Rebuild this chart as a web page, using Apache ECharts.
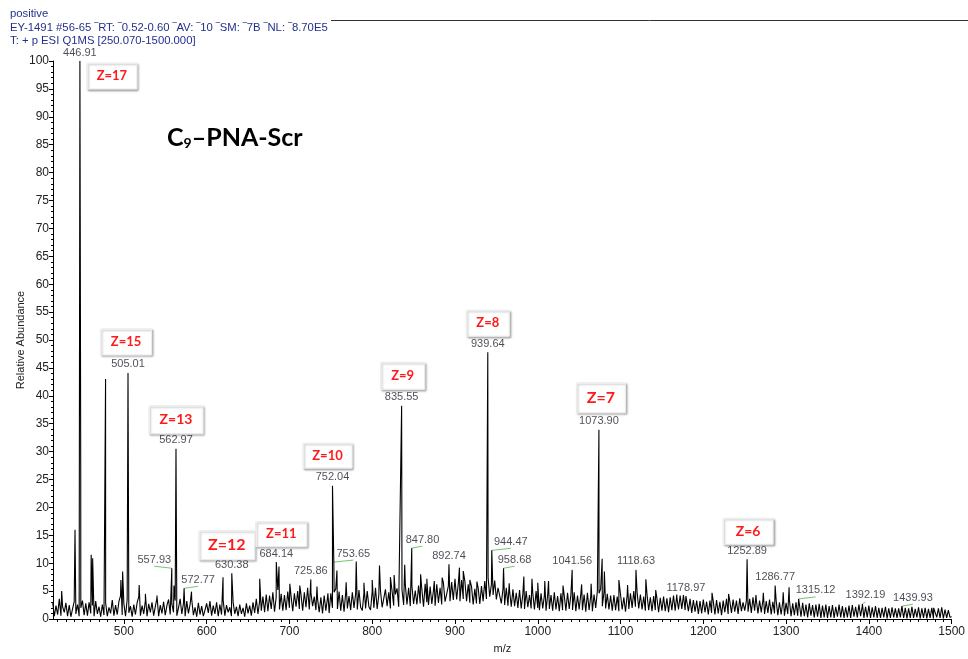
<!DOCTYPE html>
<html>
<head>
<meta charset="utf-8">
<title>C9-PNA-Scr ESI MS</title>
<script src="https://cdn.jsdelivr.net/npm/echarts@6/dist/echarts.min.js"></script>
<style>
html, body { margin: 0; padding: 0; background: #fff; }
#chart { width: 968px; height: 659px; }
</style>
</head>
<body>
<div id="chart"></div>
<script>
// noise floor, one value every 2 m/z starting at 414
const noiseStart = 414;
const noiseStep = 2;
const noise = [
  3.0,0.5,2.4,0.8,3.6,0.6,2.2,1.2,2.9,0.5,
  2.5,0.4,1.8,3.1,0.9,2.6,0.5,2.0,3.3,0.7,
  2.8,0.6,3.0,1.0,2.4,0.5,3.2,0.9,2.2,0.4,
  2.6,0.7,2.9,0.5,2.1,1.0,3.4,0.6,2.5,0.8,
  3.1,4.2,0.7,2.8,0.5,3.5,1.1,2.3,0.4,2.6,
  0.8,2.9,4.0,0.6,2.4,0.9,3.3,0.5,2.7,1.2,
  3.0,0.6,2.2,3.8,0.5,2.5,1.0,3.1,0.7,2.4,
  3.5,0.8,2.7,1.2,3.3,0.6,2.0,3.6,0.9,2.8,
  0.5,3.2,1.0,2.6,3.5,0.7,2.1,0.4,2.9,0.8,
  2.3,0.5,1.6,2.8,1.1,3.2,0.6,2.4,0.9,3.0,
  0.5,2.6,0.8,3.3,0.6,2.5,1.2,2.1,0.5,3.0,
  0.9,2.2,0.5,2.6,0.9,2.0,0.4,2.8,1.0,2.4,
  0.6,3.0,1.1,3.6,0.9,3.2,1.5,4.0,1.2,4.4,
  1.4,4.2,1.8,4.8,1.3,3.9,5.2,1.7,4.5,1.5,
  4.3,1.6,4.9,2.0,4.1,1.4,4.6,2.2,5.0,1.8,
  4.4,1.5,4.8,2.1,5.6,1.7,4.7,2.3,4.0,1.6,
  3.6,1.2,3.9,1.0,4.2,1.5,3.8,1.1,4.6,2.0,
  4.8,5.4,1.8,4.9,1.5,4.3,1.3,4.7,1.9,4.1,
  1.6,4.8,2.0,4.5,1.7,5.2,2.1,1.5,4.6,1.9,
  5.0,2.2,1.6,4.9,2.0,5.6,1.8,4.3,5.1,2.1,
  1.8,5.3,2.3,4.8,1.9,5.0,2.4,4.4,5.5,2.2,
  2.0,5.2,2.5,6.2,2.6,5.6,2.3,5.9,2.7,5.1,
  2.6,6.0,2.8,5.3,2.2,6.3,3.0,2.5,5.8,2.7,
  5.1,2.4,6.2,2.9,5.6,2.6,6.5,3.1,2.8,5.9,
  3.2,6.6,3.4,7.2,3.5,6.3,3.2,7.0,3.6,6.7,
  3.2,6.2,2.9,5.8,2.6,5.4,2.8,5.6,2.7,5.9,
  3.2,6.8,3.6,7.4,4.0,6.2,4.3,6.9,3.5,5.6,
  5.8,2.8,5.4,2.5,5.6,2.4,5.0,2.2,5.3,2.3,
  4.7,2.0,5.2,1.9,4.5,1.8,5.0,2.1,4.3,1.9,
  4.6,1.7,5.0,2.0,1.6,4.6,1.9,4.2,1.5,4.4,
  1.8,4.3,1.5,4.8,1.7,4.1,1.4,4.6,1.6,4.2,
  1.5,4.7,1.8,4.3,1.6,4.8,1.4,4.2,1.7,4.5,
  1.6,4.4,1.3,4.7,1.6,4.1,1.4,4.4,2.0,5.0,
  4.6,5.4,2.3,4.8,1.9,4.5,1.7,4.2,1.5,4.3,
  1.6,4.0,1.4,4.4,1.7,3.9,1.3,4.3,1.8,4.6,
  2.0,5.0,2.2,4.8,1.9,4.4,1.7,4.0,1.5,4.4,
  1.6,3.9,1.4,4.1,1.6,3.7,1.2,3.8,1.5,4.0,
  1.4,3.7,1.2,3.9,1.6,4.2,1.5,4.4,1.7,4.2,
  1.8,4.3,1.6,3.9,1.4,3.6,1.1,3.4,1.3,3.3,
  0.9,3.2,1.0,3.5,1.2,3.1,0.8,3.3,1.1,3.2,
  0.8,3.4,1.0,3.1,0.7,3.3,1.2,3.6,0.9,3.2,
  1.1,3.5,1.3,3.3,0.9,3.7,1.4,3.0,1.5,3.2,
  1.3,3.6,1.1,3.9,1.5,3.5,1.0,3.3,1.2,3.4,
  0.9,3.2,1.1,3.5,0.8,3.1,1.0,3.3,0.7,3.0,
  0.8,3.1,0.6,2.9,0.9,3.4,0.5,2.8,0.7,3.0,
  0.6,2.7,0.4,2.9,0.5,2.6,0.3,2.8,0.6,2.5,
  0.3,2.6,0.4,2.7,0.2,2.4,0.3,2.6,0.2,2.3,
  0.3,2.5,0.2,2.2,0.4,2.6,0.3,2.3,0.2,2.1,
  0.3,2.4,0.2,2.5,0.4,2.2,0.3,2.6,0.5,2.3,
  0.2,2.2,0.3,2.4,0.2,2.1,0.3,2.3,0.2,2.0,
  0.2,2.0,0.3,2.2,0.1,1.9,0.2,2.1,0.3,1.9,
  0.2,1.9,0.3,2.1,0.2,2.0,0.1,1.9,0.2,2.2,
  0.2,1.8,0.3,2.1,0.1,1.9,0.2,2.0,0.1,1.8,
  0.2,2.0,0.1,2.2,0.3,1.9,0.2,2.1,0.1,1.7,
  0.2,1.6,0.3,0.4
];

// labelled peaks: [m/z, relative abundance %]
const labelledPeaks = [
  [446.91, 100], [505.01, 44.1], [557.93, 9.1], [562.97, 30.5], [572.77, 5.5],
  [630.38, 8.2], [684.14, 10.2], [725.86, 7.1], [752.04, 23.9], [753.65, 10.2],
  [835.55, 38.2], [847.80, 12.7], [892.74, 9.8], [939.64, 47.8], [944.47, 12.3],
  [958.68, 9.1], [1041.56, 8.8], [1073.90, 33.9], [1118.63, 8.8], [1178.97, 4.1],
  [1252.89, 10.7], [1286.77, 6.0], [1315.12, 3.6], [1392.19, 2.7], [1439.93, 2.3]
];

// unlabelled peaks rising above the noise
const otherPeaks = [
  [424.9, 5.0], [441.0, 16.0], [447.9, 27.0], [460.5, 11.5], [462.3, 10.9],
  [477.9, 43.0], [496.4, 7.0], [498.5, 8.5], [518.5, 6.1], [526.0, 4.5],
  [540.0, 4.2], [560.5, 6.0], [581.7, 4.9], [619.8, 7.5], [664.1, 7.2],
  [687.4, 9.4], [700.5, 6.3], [712.5, 6.0], [733.3, 5.8], [746.5, 4.6],
  [757.4, 8.7], [768.5, 6.6], [780.7, 10.3], [790.0, 6.5], [800.0, 7.0],
  [808.8, 9.6], [822.0, 7.5], [826.5, 7.9], [839.3, 9.7], [858.5, 8.0],
  [866.0, 7.2], [875.0, 6.8], [884.5, 7.4], [905.4, 9.2], [910.0, 8.6],
  [918.0, 7.0], [926.5, 6.7], [965.5, 6.4], [983.2, 7.6], [993.0, 7.2],
  [1000.0, 6.5], [1008.5, 6.8], [1013.0, 6.8], [1030.5, 6.0], [1053.0, 6.2],
  [1064.5, 6.3], [1077.8, 10.8], [1080.5, 8.5], [1098.0, 7.0], [1108.5, 6.1],
  [1130.6, 7.1], [1142.5, 5.2], [1168.0, 4.0], [1172.0, 4.2], [1210.5, 4.7],
  [1230.5, 4.5], [1263.6, 4.3], [1272.5, 4.7], [1296.5, 4.8], [1303.6, 5.7],
  [1478.3, 2.0]
];

// charge state annotations: [peak m/z, z]
const chargeStates = [
  [446.91, 17], [505.01, 15], [562.97, 13], [630.38, 12], [684.14, 11],
  [752.04, 10], [835.55, 9], [939.64, 8], [1073.90, 7], [1252.89, 6]
];

const xTickValues = [500, 600, 700, 800, 900, 1000, 1100, 1200, 1300, 1400, 1500];

// layout only: horizontal shift of labels that were pushed aside (with green leader)
const labelShift = {
  '557.93': -17.5, '572.77': 14, '753.65': 19.5, '847.80': 10.7, '944.47': 19,
  '958.68': 11, '1315.12': 17, '1392.19': 3, '1439.93': 11
};
// layout only: Z box placement relative to the peak top
const zBox = {
  17: { dx: 32, dy: 15, w: 50, h: 26, fs: 13 },
  15: { dx: -2, dy: -31, w: 51, h: 26, fs: 13 },
  13: { dx: 0, dy: -29, w: 54, h: 28, fs: 14 },
  12: { dx: -5, dy: -28, w: 56, h: 29, fs: 16 },
  11: { dx: 5, dy: -28, w: 51, h: 25, fs: 13 },
  10: { dx: -5, dy: -30, w: 49, h: 25, fs: 13 },
  9: { dx: 1, dy: -30, w: 44, h: 27, fs: 13 },
  8: { dx: 0, dy: -29, w: 43, h: 26, fs: 13 },
  7: { dx: 2, dy: -32, w: 49, h: 30, fs: 16 },
  6: { dx: 1, dy: -28, w: 50, h: 26, fs: 14 }
};

const xMin = 414.4, xMax = 1500;

let spectrum = noise.map((v, i) => [noiseStart + i * noiseStep, v]);
spectrum = spectrum.concat(labelledPeaks, otherPeaks).sort((a, b) => a[0] - b[0]);

const minorTicks = [];
for (let v = 420; v <= 1500; v += 10) {
  if (v % 100 !== 0) minorTicks.push(v);
}

const key = (m) => m.toFixed(2);
const labelFont = 'Liberation Sans, Arial, sans-serif';
const headFont = '11.3px Liberation Sans, Arial, sans-serif';

const chart = echarts.init(document.getElementById('chart'));
chart.setOption({
  animation: false,
  backgroundColor: '#fff',
  grid: { left: 53, right: 15, top: 61, bottom: 38 },
  xAxis: [
    {
      type: 'value', min: xMin, max: xMax,
      name: 'm/z', nameLocation: 'middle', nameGap: 24, nameMoveOverlap: false,
      nameTextStyle: { fontSize: 11, color: '#222', fontFamily: labelFont },
      axisLine: { lineStyle: { color: '#000', width: 1 } },
      axisTick: { customValues: xTickValues, length: 5, lineStyle: { color: '#000' } },
      axisLabel: {
        customValues: xTickValues, fontSize: 12, color: '#222', margin: 7, fontFamily: labelFont,
        formatter: (v) => String(v)
      },
      splitLine: { show: false }
    },
    {
      type: 'value', min: xMin, max: xMax, position: 'bottom',
      axisLine: { show: false },
      axisTick: { customValues: minorTicks, length: 3, lineStyle: { color: '#000' } },
      axisLabel: { show: false },
      splitLine: { show: false }
    }
  ],
  yAxis: {
    type: 'value', min: 0, max: 100, interval: 5,
    name: 'Relative Abundance', nameLocation: 'middle', nameGap: 27, nameRotate: 90,
    nameMoveOverlap: false,
    nameTextStyle: { fontSize: 11, color: '#222', fontFamily: labelFont },
    axisLine: { show: true, lineStyle: { color: '#000', width: 1 } },
    axisTick: { show: true, length: 4, lineStyle: { color: '#000' } },
    minorTick: { show: true, splitNumber: 5, length: 2, lineStyle: { color: '#000' } },
    axisLabel: { fontSize: 12, color: '#222', margin: 4, fontFamily: labelFont },
    splitLine: { show: false }
  },
  series: [
    {
      name: 'spectrum', type: 'line', data: spectrum,
      showSymbol: false, symbol: 'none', silent: true,
      lineStyle: { color: '#000', width: 1.1 },
      z: 2
    },
    {
      name: 'labels', type: 'scatter', symbolSize: 0, silent: true,
      data: labelledPeaks.map(p => ({
        value: p,
        label: { offset: [labelShift[key(p[0])] || 0, 0] }
      })),
      label: {
        show: true, position: 'top', distance: 3,
        fontSize: 11, color: '#1e1e2a', fontFamily: labelFont,
        formatter: (d) => key(d.value[0])
      },
      z: 3
    }
  ]
});

const toPx = (p) => chart.convertToPixel({ xAxisIndex: 0, yAxisIndex: 0 }, p);
const headStyle = (text) => ({
  text, fill: '#23308f', font: headFont, verticalAlign: 'middle', textVerticalAlign: 'middle'
});
const graphics = [
  { type: 'text', x: 10, y: 14, style: headStyle('positive') },
  { type: 'text', x: 10, y: 28, style: headStyle('EY-1491 #56-65 \u203ERT: \u203E0.52-0.60 \u203EAV: \u203E10 \u203ESM: \u203E7B \u203ENL: \u203E8.70E5') },
  { type: 'text', x: 10, y: 41, style: headStyle('T: + p ESI Q1MS [250.070-1500.000]') },
  { type: 'line', shape: { x1: 331, y1: 20.5, x2: 968, y2: 20.5 }, style: { stroke: '#333', lineWidth: 1 } },
  {
    type: 'text', x: 167, y: 138,
    style: {
      text: '{b|C}{s|9}{b|\u2013PNA-Scr}',
      verticalAlign: 'middle', textVerticalAlign: 'middle',
      rich: {
        b: { fontSize: 25, fontWeight: 'bold', fontFamily: 'Lato, Noto Sans, sans-serif', fill: '#000', color: '#000' },
        s: { fontSize: 14, fontWeight: 'bold', fontFamily: 'Lato, Noto Sans, sans-serif', fill: '#000', color: '#000', verticalAlign: 'bottom' }
      }
    }
  }
];

// green leader lines for shifted labels
labelledPeaks.forEach(p => {
  const dx = labelShift[key(p[0])];
  if (!dx) return;
  const [px, py] = toPx(p);
  graphics.push({
    type: 'line', silent: true,
    shape: { x1: px, y1: py, x2: px + dx, y2: py - 2 },
    style: { stroke: '#74c474', lineWidth: 1 }
  });
});

// Z annotation boxes
chargeStates.forEach(([mz, z]) => {
  const peak = labelledPeaks.find(p => p[0] === mz);
  const [px, py] = toPx(peak);
  const b = zBox[z];
  const cx = px + b.dx, cy = py + b.dy;
  graphics.push({
    type: 'rect', silent: true,
    shape: { x: cx - b.w / 2, y: cy - b.h / 2, width: b.w, height: b.h },
    style: { fill: '#fff', stroke: '#ececec', lineWidth: 1, shadowBlur: 2, shadowOffsetX: 1.5, shadowOffsetY: 1.5, shadowColor: 'rgba(0,0,0,0.28)' },
    z: 10
  });
  graphics.push({
    type: 'text', silent: true, x: cx, y: cy,
    style: {
      text: 'Z=' + z, fill: '#ff1a1a',
      font: 'bold ' + b.fs + 'px Lato, Noto Sans, sans-serif',
      align: 'center', textAlign: 'center', verticalAlign: 'middle', textVerticalAlign: 'middle'
    },
    z: 11
  });
});

chart.setOption({ graphic: graphics });
</script>
</body>
</html>
